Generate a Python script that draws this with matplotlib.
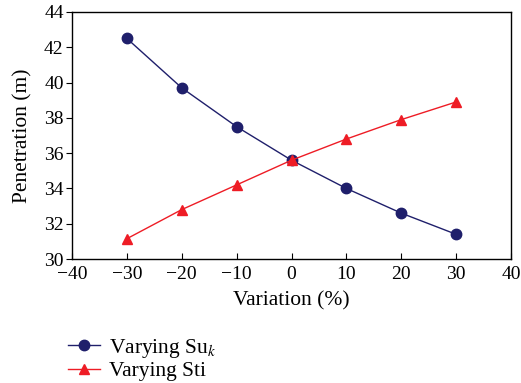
import matplotlib
matplotlib.use("Agg")
import matplotlib.pyplot as plt

variation = [-30, -20, -10, 0, 10, 20, 30]
su_k = [42.5, 39.7, 37.5, 35.6, 34.0, 32.6, 31.4]
sti = [31.15, 32.8, 34.2, 35.6, 36.8, 37.9, 38.9]
xticks = [-40, -30, -20, -10, 0, 10, 20, 30, 40]
yticks = [30, 32, 34, 36, 38, 40, 42, 44]

plt.rcParams['font.family'] = ['Liberation Serif', 'DejaVu Serif']
plt.rcParams['mathtext.fontset'] = 'stix'

fig = plt.figure(figsize=(5.21, 3.83), dpi=100)
ax = fig.add_axes([72/521, 1-259/383, (511-72)/521, (259-12)/383])

navy = '#1f1f6b'
red = '#ee1c25'
l1, = ax.plot(variation, su_k, color=navy, lw=1.0, marker='o', ms=7.5,
              label='Varying Su$_{k}$')
l2, = ax.plot(variation, sti, color=red, lw=1.0, marker='^', ms=7.5,
              label='Varying Sti')

ax.set_xlim(-40, 40)
ax.set_ylim(30, 44)
ax.set_xticks(xticks)
ax.set_yticks(yticks)
ax.set_xticklabels([str(t).replace('-', '\u2212') for t in xticks])
ax.tick_params(axis='x', direction='in', length=4, labelsize=14, pad=5)
ax.tick_params(axis='y', direction='out', length=4, labelsize=14, pad=2)
for s in ax.spines.values():
    s.set_linewidth(1.0)
ax.set_xlabel('Variation (%)', fontsize=15.5, labelpad=6)
ax.set_ylabel('Penetration (m)', fontsize=15.5, labelpad=8)

fig.legend(handles=[l1, l2], loc='upper left', bbox_to_anchor=(68/521, 1-337/383),
           frameon=False, fontsize=15.5, handlelength=1.5, handletextpad=0.4,
           labelspacing=0.05, borderaxespad=0, borderpad=0)

fig.savefig('out.png', dpi=100)
